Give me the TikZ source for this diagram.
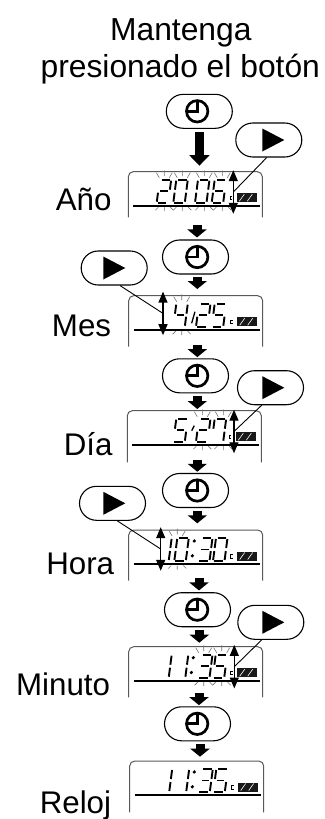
\documentclass[tikz,border=0pt]{standalone}
\usepackage{fontspec}
\setmainfont{Liberation Sans}
\usetikzlibrary{arrows.meta,shapes.misc}

% Seven segments of one display digit (origin at its lower left corner)
\tikzset{
  seg-a/.style={insert path={(2,-23) -- (10.5,-23)}},
  seg-b/.style={insert path={(11.5,-22) -- (11.5,-13)}},
  seg-c/.style={insert path={(11.5,-10) -- (11.5,-1)}},
  seg-d/.style={insert path={(1,0) -- (9.5,0)}},
  seg-e/.style={insert path={(0,-1) -- (0,-10)}},
  seg-f/.style={insert path={(0,-13) -- (0,-22)}},
  seg-g/.style={insert path={(2,-11.5) -- (9.5,-11.5)}},
  segline/.style={line width=1.9pt},
  panelbox/.style={anchor=north west, inner sep=0pt, outer sep=0pt, minimum width=134pt},
  panelframe/.style={line width=1pt, black!65, rounded corners=5pt},
  panelrule/.style={line width=1.7pt},
  blinkray/.style={line width=0.6pt, black!55},
  modebtn/.style={draw, rounded rectangle, line width=1.1pt, minimum width=66pt, minimum height=34pt, inner sep=0pt},
  clockring/.style={line width=2.7pt},
  blockarrow/.style={line width=9pt, -{Triangle[length=8pt,width=19pt]}},
  adjarrow/.style={line width=1.3pt, {Triangle[length=11pt,width=9pt]}-{Triangle[length=11pt,width=9pt]}},
  callout/.style={line width=0.9pt},
  bigtext/.style={font=\fontsize{31.8}{36}\selectfont, inner sep=0pt, anchor=base},
  steplabel/.style={font=\fontsize{31.3}{36}\selectfont, inner sep=0pt, anchor=base east}
}

\def\dzero{a,b,c,d,e,f}
\def\done{b,c}
\def\dtwo{a,b,g,e,d}
\def\dthree{a,b,g,c,d}
\def\dfour{f,g,b,c}
\def\dfive{a,f,g,c,d}
\def\dsix{a,f,g,e,c,d}
\def\dseven{a,b,c,f}

% panel, x from its left edge, segments
\newcommand{\lcddigit}[3]{
  \begin{scope}[shift={(#1.north west)}, xshift=#2, yshift=-31, xslant=.13]
    \foreach \s in #3 {\draw[segline, seg-\s];}
  \end{scope}
}
% panel, x, two heights above the digit foot
\newcommand{\lcdtick}[4]{
  \begin{scope}[shift={(#1.north west)}, xshift=#2, yshift=-31, xslant=.13]
    \draw[line width=1.3pt] (0,#3) -- (1.8,#4);
  \end{scope}
}
% panel, x
\newcommand{\lcdcolon}[2]{
  \begin{scope}[shift={(#1.north west)}, xshift=#2, yshift=-31, xslant=.13]
    \fill (0,-5.2) circle (1.8) (0,-20) circle (1.8);
  \end{scope}
}
% panel, x of the fan
\newcommand{\lcdblink}[2]{
  \begin{scope}[shift={(#1.north west)}, xshift=#2]
    \draw[blinkray] (-8,1) -- (-5,6) (0,-1.4) -- (0,4.3) (8,1) -- (5,6);
    \draw[blinkray] (-9,38.5) -- (-6,35.5) (0,35.5) -- (0,39.5) (9,38.5) -- (6,35.5);
  \end{scope}
}

\begin{document}
\begin{tikzpicture}[x=1pt, y=-1pt]
  \useasboundingbox (0,0) rectangle (324,819);

  % Heading
  \node[bigtext] (headA) at (180.8,40.7) {Mantenga};
  \node[bigtext] (headB) at (180.3,77.3) {presionado el botón};

  % Step labels
  \node[steplabel] (nameA) at (111.7,210.7) {Año};
  \node[steplabel] (nameB) at (111.3,336) {Mes};
  \node[steplabel] (nameC) at (112.7,455.7) {Día};
  \node[steplabel] (nameD) at (114.3,574) {Hora};
  \node[steplabel] (nameE) at (110.3,695) {Minuto};
  \node[steplabel] (nameF) at (111.3,813.3) {Reloj};

  % Display panels
  \foreach \nm/\xl/\yt/\yb in {lcdA/128.3/171.7/217.3, lcdB/128.7/295.7/346.7, lcdC/127.3/410.7/462.3,
                               lcdD/128.7/530/580.7, lcdE/128.7/646.7/697.3, lcdF/129.7/761/812.3} {
    \node[panelbox, minimum height={\yb-\yt}] (\nm) at (\xl,\yt) {};
    \begin{scope}[shift={(\nm.north west)}]
      \pgfmathsetmacro\hh{\yb-\yt}
      \draw[panelframe] (0,\hh) -- (0,0) -- (134,0) -- (134,\hh);
      \draw[panelrule] (5,34) -- (131.5,34);
      \fill[black!90] (108.4,21.6) rectangle (128.4,30.6);
      \draw[white, line width=0.6pt] (111,29.5) -- (116,22.5) (119,29.5) -- (124,22.5);
      \draw[line width=0.8pt] (104,24.2) -- (102,24.2) -- (102,28) -- (104,28);
    \end{scope}
  }

  % 2006
  \lcddigit{lcdA}{28.4}{\dtwo}
  \lcddigit{lcdA}{45}{\dzero}
  \lcddigit{lcdA}{66.7}{\dzero}
  \lcddigit{lcdA}{83.4}{\dsix}
  \foreach \fx in {36,54,76,94} {\lcdblink{lcdA}{\fx}}

  % 4/25
  \lcddigit{lcdB}{44.6}{\dfour}
  \lcdtick{lcdB}{62.5}{-3.4}{-15}
  \lcddigit{lcdB}{67.3}{\dtwo}
  \lcddigit{lcdB}{83}{\dfive}
  \lcdblink{lcdB}{53}

  % 5/27
  \lcddigit{lcdC}{46}{\dfive}
  \lcdtick{lcdC}{63}{-11}{-16}
  \lcddigit{lcdC}{68.7}{\dtwo}
  \lcddigit{lcdC}{84.4}{\dseven}
  \foreach \fx in {75,96} {\lcdblink{lcdC}{\fx}}

  % 10:30
  \lcddigit{lcdD}{28.5}{\done}
  \lcddigit{lcdD}{45.6}{\dzero}
  \lcdcolon{lcdD}{63}
  \lcddigit{lcdD}{69.3}{\dthree}
  \lcddigit{lcdD}{84.3}{\dzero}
  \lcdblink{lcdD}{48.5}

  % 11:35
  \lcddigit{lcdE}{28.5}{\done}
  \lcddigit{lcdE}{45.1}{\done}
  \lcdcolon{lcdE}{62}
  \lcddigit{lcdE}{69.3}{\dthree}
  \lcddigit{lcdE}{84}{\dfive}
  \foreach \fx in {75,93} {\lcdblink{lcdE}{\fx}}

  % Clock
  \lcddigit{lcdF}{28}{\done}
  \lcddigit{lcdF}{45}{\done}
  \lcdcolon{lcdF}{62}
  \lcddigit{lcdF}{68.6}{\dthree}
  \lcddigit{lcdF}{83.6}{\dfive}

  % Clock buttons
  \foreach \nm/\xc/\yc/\dx in {btnA/199.3/111.3/-2.1, btnB/195.5/257/1.7, btnC/195.5/375.8/1.7,
                               btnD/195.5/490.5/1.7, btnE/197.5/609.7/-0.3, btnF/197.5/723.8/-0.3} {
    \node[modebtn] (\nm) at (\xc,\yc) {};
    \draw[clockring] ([xshift=\dx]\nm.center) circle (10.7);
    \draw[clockring] ([xshift=\dx,yshift=10.7]\nm.center) -- ([xshift=\dx]\nm.center) -- ([xshift=\dx-10.7]\nm.center);
  }

  % Arrow buttons
  \foreach \nm/\xc/\yc/\tx in {playA/268.8/140/-6.5, playB/114.2/268/-10.9, playC/270.5/387.7/-8.2,
                               playD/112.5/503.3/-9.2, playE/270.8/622.3/-8.5} {
    \node[modebtn] (\nm) at (\xc,\yc) {};
    \fill ([xshift=\tx,yshift=11.5]\nm.center) -- ([xshift=\tx+22]\nm.center) -- ([xshift=\tx,yshift=-11.5]\nm.center) -- cycle;
  }

  % Adjust arrows
  \foreach \nm/\xc/\yc in {adjA/233.3/192, adjB/163/313.4, adjC/234/431.5, adjD/160.7/549, adjE/234.3/666.7} {
    \coordinate (\nm) at (\xc,\yc);
    \draw[adjarrow] ([yshift=21.8]\nm) -- ([yshift=-21.8]\nm);
  }

  % Callouts
  \foreach \from/\to/\dx in {playA/adjA/-2.1, playB/adjB/5.8, playC/adjC/-8.8, playD/adjD/4.8, playE/adjE/-9.1} {
    \draw[callout] ([xshift=\dx]\from.south) -- (\to);
  }

  % Sequence arrows
  \foreach \from/\to/\ax/\sa/\sb in {lcdA/btnB/197/7.7/2, btnB/lcdB/197.3/2/6.7, lcdB/btnC/197.3/-1.4/1.1,
                                     btnC/lcdC/197.3/2.9/1.7, lcdC/btnD/197.3/-2.3/1.2, btnD/lcdD/197.3/2.5/6.7,
                                     lcdD/btnE/199/-2.4/1.7, btnE/lcdE/199.3/2.6/4, lcdE/btnF/199/-4/1.1,
                                     btnF/lcdF/200/2.5/4.3} {
    \draw[blockarrow, shorten <=\sa, shorten >=\sb] (\ax,0 |- \from.south) -- (\ax,0 |- \to.north);
  }
  \draw[blockarrow, -{Triangle[length=10.7pt,width=20pt]}, shorten <=3.4, shorten >=6] (199.4,0 |- btnA.south) -- (199.4,0 |- lcdA.north);
\end{tikzpicture}
\end{document}
